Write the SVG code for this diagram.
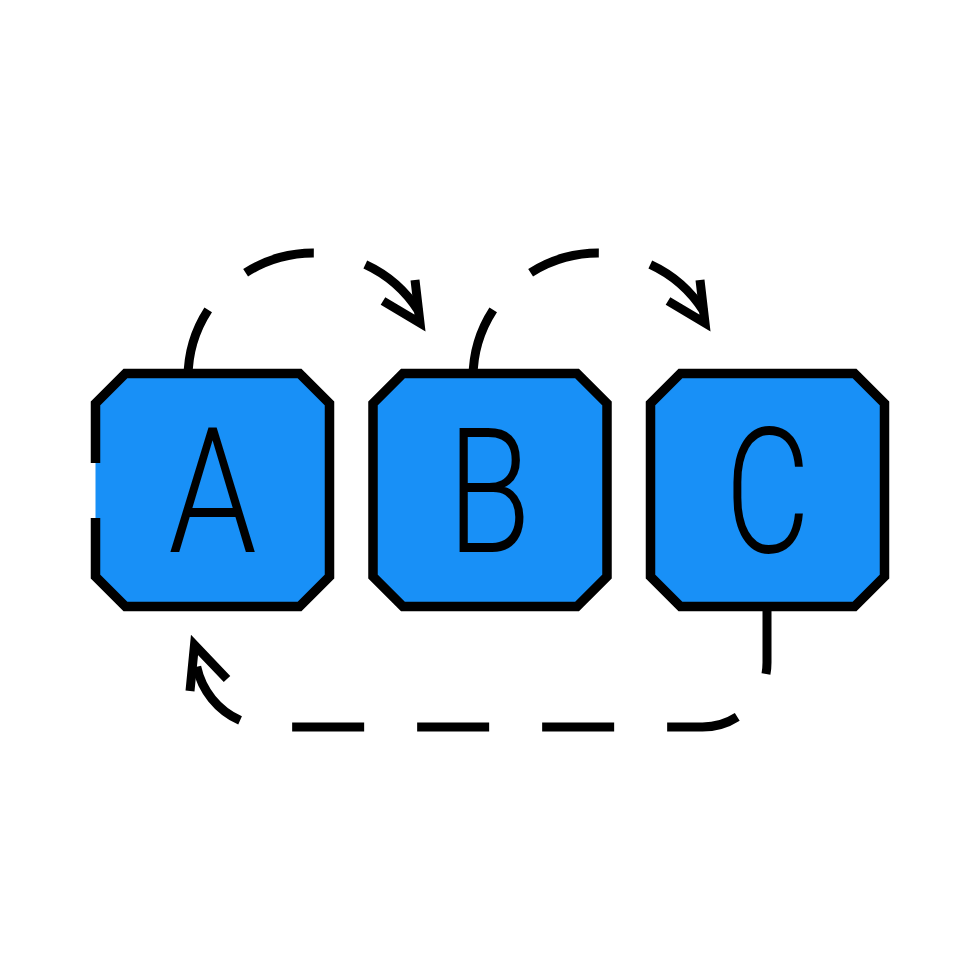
<svg xmlns="http://www.w3.org/2000/svg" width="980" height="980" viewBox="0 0 980 980">
<style>
.bg{fill:#ffffff}
.fill{fill:#1890f7;stroke:none}
.edge{fill:none;stroke:#000;stroke-width:9.5;stroke-linejoin:miter}
.box{fill:#1890f7;stroke:#000;stroke-width:9.5;stroke-linejoin:miter}
.conn{fill:none;stroke:#000;stroke-width:9;stroke-dasharray:72 53}
.head{fill:none;stroke:#000;stroke-width:9;stroke-linejoin:miter;stroke-miterlimit:10}
.lbl{font-family:Roboto,"DejaVu Sans",sans-serif;font-weight:300;font-size:175px;fill:#000;text-anchor:middle}
</style>
<rect class="bg" x="0" y="0" width="980" height="980"/>
<g id="connectors">
<path class="conn" d="M188,378 A125,125 0 0 1 420.6,314.4"/>
<polyline class="head" points="415,280 420,323 383,301"/>
<path class="conn" d="M473,378 A125,125 0 0 1 705.6,314.4"/>
<polyline class="head" points="700,280 705,323 668,301"/>
<path class="conn" d="M767,602 V662.5 A64.5,64.5 0 0 1 702.5,727 H271 A76,76 0 0 1 196.7,666.8"/>
<polyline class="head" points="190,691 194.5,645 227,679"/>
</g>
<g id="node-a">
<polygon class="fill" points="125.5,373.5 299.5,373.5 329.5,403.5 329.5,576.5 299.5,606.5 125.5,606.5 95.5,576.5 95.5,403.5"/>
<path class="edge" d="M95.5,463 V403.5 L125.5,373.5 H299.5 L329.5,403.5 V576.5 L299.5,606.5 H125.5 L95.5,576.5 V518"/>
<text class="lbl" transform="translate(212.5,552) scale(0.81,1)" x="0" y="0">A</text>
</g>
<g id="node-b">
<polygon class="box" points="403,373.5 577,373.5 607,403.5 607,576.5 577,606.5 403,606.5 373,576.5 373,403.5"/>
<text class="lbl" transform="translate(489,552) scale(0.78,1)" x="0" y="0">B</text>
</g>
<g id="node-c">
<polygon class="box" points="680.5,373.5 854.5,373.5 884.5,403.5 884.5,576.5 854.5,606.5 680.5,606.5 650.5,576.5 650.5,403.5"/>
<text class="lbl" transform="translate(767.5,552) scale(0.75,1)" x="0" y="0">C</text>
</g>
</svg>
